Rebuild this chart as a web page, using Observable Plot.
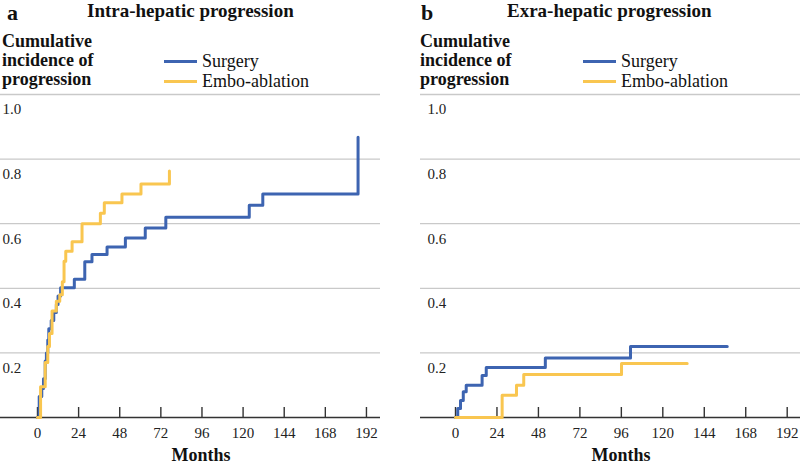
<!DOCTYPE html>
<html><head><meta charset="utf-8">
<script src="https://cdn.jsdelivr.net/npm/d3@7"></script>
<script src="https://cdn.jsdelivr.net/npm/@observablehq/plot@0.6"></script>
<style>
body{margin:0;background:#fff;}
#wrap{position:relative;width:800px;height:466px;overflow:hidden;font-family:"Liberation Serif","Times New Roman",serif;color:#111;}
.abs{position:absolute;white-space:nowrap;}
.letter{font-weight:bold;font-size:22px;line-height:25px;}
.title{font-weight:bold;font-size:19px;line-height:21px;}
.ylab{font-weight:bold;font-size:18px;line-height:19px;}
.leg{font-size:18px;line-height:20px;}
.legline{position:absolute;height:3px;}
.xlab{font-weight:bold;font-size:18px;line-height:18px;transform:translateX(-50%);}
.panel{position:absolute;top:0;}
</style></head>
<body><div id="wrap"></div>
<script>
// ---- data ----
const seriesNames = ["Surgery", "Embo-ablation"];
const seriesColors = ["#3d64b1", "#f9c650"];
const xTicks = [0, 24, 48, 72, 96, 120, 144, 168, 192];
const yTicks = [0.2, 0.4, 0.6, 0.8, 1.0];
const panelLetters = ["a", "b"];
const panelTitles = ["Intra-hepatic progression", "Exra-hepatic progression"];
const yLabelLines = ["Cumulative", "incidence of", "progression"];
const xLabel = "Months";

// Panel a: intra-hepatic progression
const intraSurgeryMonths = [0, 1, 2.5, 3.5, 4.5, 5.2, 6, 6.6, 8, 9.5, 11, 12, 13.5, 21.5, 27.6, 31.8, 40.6, 51.3, 62.9, 74.9, 123.6, 131.5, 187.1];
const intraSurgeryValues = [0, 0.065, 0.09, 0.12, 0.175, 0.2, 0.24, 0.275, 0.3, 0.325, 0.35, 0.376, 0.402, 0.428, 0.482, 0.505, 0.528, 0.556, 0.587, 0.62, 0.657, 0.692, 0.868];
const intraEmboMonths = [0, 1.8, 4.5, 6, 7, 8.5, 11, 13, 14.5, 15.5, 16.5, 20.2, 26, 36.7, 39, 49.3, 60.4, 77];
const intraEmboValues = [0, 0.095, 0.17, 0.22, 0.26, 0.33, 0.36, 0.38, 0.42, 0.484, 0.515, 0.544, 0.6, 0.632, 0.665, 0.692, 0.723, 0.763];

// Panel b: extra-hepatic progression
const extraSurgeryMonths = [0, 1.3, 2.9, 4.5, 6.2, 15.4, 17.8, 52, 101.3, 157.3];
const extraSurgeryValues = [0, 0.028, 0.053, 0.08, 0.1, 0.13, 0.155, 0.184, 0.22, 0.22];
const extraEmboMonths = [0, 27, 35.3, 39.5, 96.1, 134.1];
const extraEmboValues = [0, 0.069, 0.1, 0.133, 0.167, 0.167];

// ---- build tables ----
function toRows(months, values, series) {
  return months.map((m, i) => ({month: m, value: values[i], series}));
}
const panelData = [
  [...toRows(intraSurgeryMonths, intraSurgeryValues, seriesNames[0]), ...toRows(intraEmboMonths, intraEmboValues, seriesNames[1])],
  [...toRows(extraSurgeryMonths, extraSurgeryValues, seriesNames[0]), ...toRows(extraEmboMonths, extraEmboValues, seriesNames[1])]
];

const panelCfg = [
  {left: 0, marginLeft: 0, marginRight: 20, xDomain: [-21.59, 200.2], labelDx: 2},
  {left: 400, marginLeft: 20, marginRight: 0, xDomain: [-20.26, 199.7], labelDx: 7}
];

const wrap = document.getElementById("wrap");

function panelPlot(data, cfg) {
  return Plot.plot({
    width: 400, height: 466,
    marginTop: 94, marginBottom: 49, marginLeft: cfg.marginLeft, marginRight: cfg.marginRight,
    x: {domain: cfg.xDomain, axis: null},
    y: {domain: [0, 1], axis: null},
    color: {domain: seriesNames, range: seriesColors},
    style: {fontFamily: "'Liberation Serif', 'Times New Roman', serif", fontSize: "15px", color: "#222", background: "transparent", overflow: "visible"},
    marks: [
      Plot.gridY(yTicks, {stroke: "#c9c9c9", strokeOpacity: 1, strokeWidth: 1.3}),
      Plot.text(yTicks, {y: d => d, text: d => d.toFixed(1), frameAnchor: "left", textAnchor: "start", dx: cfg.labelDx, dy: 15, fontSize: 15, fill: "#222"}),
      Plot.ruleY([0], {stroke: "#333", strokeWidth: 1.4}),
      Plot.axisX(xTicks, {tickSize: 10, dy: -10, tickPadding: 10, stroke: "#333", strokeWidth: 1.4, fontSize: 15, fill: "#222", label: null}),
      Plot.line(data, {x: "month", y: "value", stroke: "series", z: "series", curve: "step-after", strokeWidth: 3})
    ]
  });
}

function addDiv(cls, text, styles) {
  const d = document.createElement("div");
  d.className = "abs " + cls;
  if (text != null) d.textContent = text;
  Object.assign(d.style, styles);
  wrap.appendChild(d);
  return d;
}

panelCfg.forEach((cfg, p) => {
  const holder = document.createElement("div");
  holder.className = "panel";
  holder.style.left = cfg.left + "px";
  holder.appendChild(panelPlot(panelData[p], cfg));
  wrap.appendChild(holder);

  const off = cfg.left;
  // panel letter and title
  addDiv("letter", panelLetters[p], {left: (off + (p ? 21 : 7)) + "px", top: "0px"});
  addDiv("title", panelTitles[p], {left: (off + (p ? 107 : 87)) + "px", top: "0px"});
  // y label
  const yl = addDiv("ylab", null, {left: (off + (p ? 20 : 2)) + "px", top: "32px"});
  yl.innerHTML = yLabelLines.join("<br>");
  // legend
  const legLeft = off + (p ? 183 : 164);
  seriesNames.forEach((name, i) => {
    const ly = 60 + i * 20;
    addDiv("legline", null, {left: legLeft + "px", top: ly + "px", width: "33px", background: seriesColors[i]});
    addDiv("leg", name, {left: (legLeft + 38) + "px", top: (ly - 9) + "px"});
  });
  // x label
  addDiv("xlab", xLabel, {left: (off + (p ? 221 : 201)) + "px", top: "446px"});
});
</script>
</body></html>
